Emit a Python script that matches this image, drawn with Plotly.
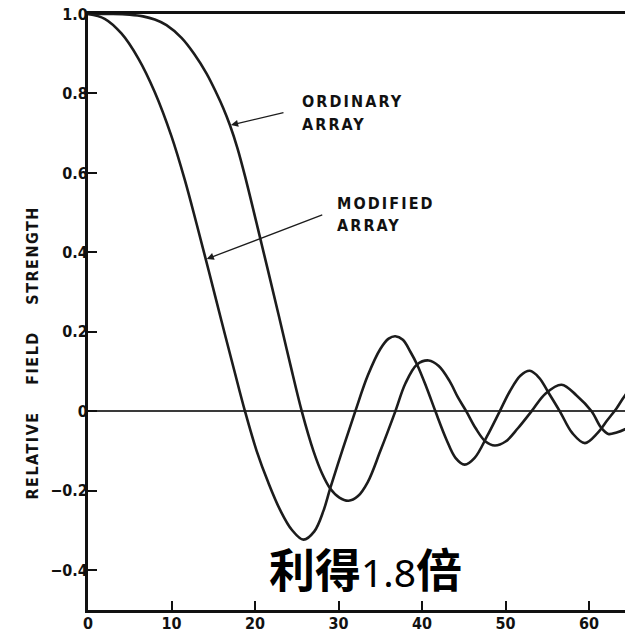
import numpy as np
import plotly.graph_objects as go

# Relative field strength versus angle for the two array types
x_modified = [0, 2.0, 4.0, 6.0, 8.0, 10.0, 11.6, 13.0, 14.5, 16.0, 17.5, 18.8,
              20.2, 21.6, 23.0, 24.4, 25.8, 27.1, 28.2, 29.0, 30.5, 32.0, 33.5, 35.0,
              36.0, 36.8, 37.7, 38.6, 39.4, 40.5, 41.6, 42.9, 44.0, 45.1, 46.3, 47.8,
              49.3, 50.5, 51.8, 52.9, 54.0, 55.2, 56.5, 58.0, 59.5, 61.0, 62.2, 63.3,
              64.3, 65.5]
y_modified = [1.000, 0.988, 0.951, 0.889, 0.803, 0.692, 0.582, 0.472, 0.350, 0.226,
              0.104, 0.000, -0.100, -0.180, -0.248, -0.298, -0.323, -0.302, -0.250,
              -0.194, -0.095, 0.000, 0.090, 0.157, 0.183, 0.189, 0.180, 0.150, 0.118,
              0.062, 0.000, -0.070, -0.117, -0.134, -0.117, -0.062, 0.000, 0.050, 0.090,
              0.102, 0.085, 0.045, 0.000, -0.055, -0.080, -0.055, -0.022, 0.008, 0.040,
              0.068]

x_ordinary = [0, 3.0, 5.0, 6.6, 8.0, 9.4, 11.2, 12.7, 14.2, 15.4, 16.2, 17.0, 17.9, 18.8,
              20.8, 22.8, 24.2, 25.6, 27.0, 28.0, 29.0, 30.1, 31.2, 32.3, 33.5, 35.0,
              36.8, 38.0, 39.4, 40.8, 42.0, 43.3, 44.3, 45.3, 46.4, 47.6, 48.7, 50.0,
              51.5, 53.1, 54.8, 56.7, 58.5, 60.3, 61.4, 62.3, 63.3, 64.3, 65.5]
y_ordinary = [1.000, 1.000, 0.998, 0.994, 0.986, 0.972, 0.940, 0.900, 0.850, 0.800,
              0.763, 0.720, 0.662, 0.592, 0.420, 0.245, 0.120, 0.000, -0.100, -0.155,
              -0.194, -0.217, -0.225, -0.214, -0.178, -0.100, 0.000, 0.070, 0.118, 0.128,
              0.114, 0.076, 0.035, 0.000, -0.042, -0.076, -0.086, -0.076, -0.042, 0.000,
              0.045, 0.067, 0.040, 0.000, -0.040, -0.057, -0.053, -0.045, -0.030]

x_ticks = [0, 10, 20, 30, 40, 50, 60]
x_labels = ["0", "10", "20", "30", "40", "50", "60"]
y_ticks = [-0.4, -0.2, 0, 0.2, 0.4, 0.6, 0.8, 1.0]
y_labels = ["\u22120.4", "\u22120.2", "0", "0.2", "0.4", "0.6", "0.8", "1.0"]

ink = "#1c1c1c"
letter_family = "DejaVu Sans Condensed, DejaVu Sans"


def lettering(size):
    return dict(family=letter_family, size=size, color="#111", weight="bold")


fig = go.Figure()
for xs, ys in ((x_modified, y_modified), (x_ordinary, y_ordinary)):
    fig.add_trace(go.Scatter(
        x=xs, y=ys, mode="lines",
        line=dict(color=ink, width=2.6, shape="spline", smoothing=1.0),
        hoverinfo="skip", showlegend=False,
    ))

axis_common = dict(
    showgrid=False, showline=True, linecolor="#111", linewidth=3,
    ticks="inside", ticklen=9, tickwidth=2, tickcolor="#111",
    tickfont=lettering(16),
)

fig.update_xaxes(range=[0, 64.3], tickvals=x_ticks, ticktext=x_labels,
                 mirror=True, zeroline=False, ticklabelstandoff=-3, **axis_common)
fig.update_yaxes(range=[-0.5, 1.0], tickvals=y_ticks, ticktext=y_labels,
                 zeroline=True, zerolinecolor="#3a3a3a", zerolinewidth=1.8,
                 ticklabelstandoff=-6, **axis_common)

# Axis title with wide lettering
fig.add_annotation(
    xref="paper", yref="y", x=-0.104, y=0.146, textangle=-90,
    text=("<span style='letter-spacing:1.5px;word-spacing:20px;font-stretch:condensed'>"
          "RELATIVE FIELD STRENGTH</span>"),
    showarrow=False, xanchor="center", yanchor="middle",
    font=lettering(16),
)

# Curve labels
for txt, lx, ly in (("ORDINARY", 25.4, 0.779), ("ARRAY", 25.4, 0.721),
                    ("MODIFIED", 29.6, 0.524), ("ARRAY", 29.6, 0.468)):
    fig.add_annotation(
        x=lx, y=ly,
        text=f"<span style='letter-spacing:2.1px;font-stretch:condensed'>{txt}</span>",
        showarrow=False, xanchor="left", yanchor="middle", font=lettering(16),
    )

# Pointer arrows ending on the curves
ord_x = 17.0
ord_y = float(np.interp(ord_x, x_ordinary, y_ordinary))
mod_x = 14.1
mod_y = float(np.interp(mod_x, x_modified, y_modified))
for hx, hy, tx, ty in ((ord_x, ord_y, 55, -13), (mod_x, mod_y, 118, -45)):
    fig.add_annotation(
        x=hx, y=hy, ax=tx, ay=ty, text="", showarrow=True,
        arrowhead=2, arrowsize=1.1, arrowwidth=1.3, arrowcolor=ink, standoff=1,
    )

# Gain note
fig.add_annotation(
    x=33.2, y=-0.392, showarrow=False, xanchor="center", yanchor="middle",
    text="<b>利得</b><span style='font-family:Noto Sans;font-weight:normal;font-size:39px'>1.8</span><b>倍</b>",
    font=dict(family="Noto Sans CJK SC", size=46, color="#000"),
)

fig.update_layout(
    width=625, height=635,
    margin=dict(l=88, r=0, t=14, b=25),
    paper_bgcolor="white", plot_bgcolor="white",
)

fig.write_html("out.html")
